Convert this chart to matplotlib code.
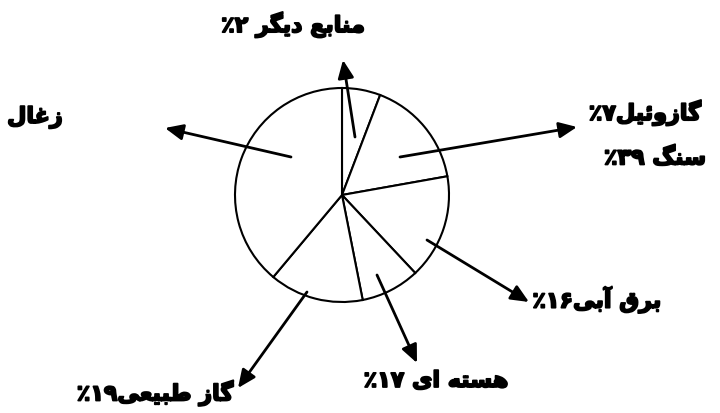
import re
import matplotlib
matplotlib.use('Agg')
import matplotlib.pyplot as plt
import matplotlib.patheffects as pe

# energy sources as written on the chart, clockwise from the top
labels = ['منابع دیگر ۲٪', 'گازوئیل۷٪', 'برق آبی۱۶٪', 'هسته ای ۱۷٪', 'گاز طبیعی۱۹٪', 'زغال سنگ ۳۹٪']
percent = [2, 7, 16, 17, 19, 39]
# slice sizes as they are drawn (the original sketch is not to scale)
drawn_share = [5.8, 16.4, 15.8, 8.9, 14.2, 38.9]

W, H = 720, 413

# presentation forms: isolated, final, initial, medial
FORMS = {
    'ا': ('\uFE8D', '\uFE8E', None, None),
    'آ': ('\uFE81', '\uFE82', None, None),
    'ب': ('\uFE8F', '\uFE90', '\uFE91', '\uFE92'),
    'ت': ('\uFE95', '\uFE96', '\uFE97', '\uFE98'),
    'د': ('\uFEA9', '\uFEAA', None, None),
    'ر': ('\uFEAD', '\uFEAE', None, None),
    'ز': ('\uFEAF', '\uFEB0', None, None),
    'س': ('\uFEB1', '\uFEB2', '\uFEB3', '\uFEB4'),
    'ط': ('\uFEC1', '\uFEC2', '\uFEC3', '\uFEC4'),
    'ع': ('\uFEC9', '\uFECA', '\uFECB', '\uFECC'),
    'غ': ('\uFECD', '\uFECE', '\uFECF', '\uFED0'),
    'ق': ('\uFED5', '\uFED6', '\uFED7', '\uFED8'),
    'ل': ('\uFEDD', '\uFEDE', '\uFEDF', '\uFEE0'),
    'م': ('\uFEE1', '\uFEE2', '\uFEE3', '\uFEE4'),
    'ن': ('\uFEE5', '\uFEE6', '\uFEE7', '\uFEE8'),
    'ه': ('\uFEE9', '\uFEEA', '\uFEEB', '\uFEEC'),
    'و': ('\uFEED', '\uFEEE', None, None),
    'ئ': ('\uFE89', '\uFE8A', '\uFE8B', '\uFE8C'),
    'ی': ('\uFBFC', '\uFBFD', '\uFBFE', '\uFBFF'),
    'گ': ('\uFB92', '\uFB93', '\uFB94', '\uFB95'),
}
DIGITS = '۰۱۲۳۴۵۶۷۸۹'


def joins_left(c):
    return c in FORMS and FORMS[c][2] is not None


def shape(text):
    # matplotlib does no arabic shaping, so pick the joined forms by hand
    out = []
    for i, c in enumerate(text):
        if c not in FORMS:
            out.append(c)
            continue
        prev = text[i - 1] if i > 0 else ''
        nxt = text[i + 1] if i + 1 < len(text) else ''
        p = joins_left(prev)
        n = joins_left(c) and nxt in FORMS
        iso, fin, ini, med = FORMS[c]
        out.append(med if p and n else fin if p else ini if n else iso)
    s = ''.join(out)
    runs = re.findall('[' + DIGITS + ']+|[^' + DIGITS + ']+', s)
    return ''.join(r if r[0] in DIGITS else r[::-1] for r in reversed(runs))


fig = plt.figure(figsize=(W / 100, H / 100), dpi=100)
ax = fig.add_axes([0, 0, 1, 1])

ax.pie(drawn_share, startangle=90, counterclock=False,
       center=(342, H - 195), radius=107,
       wedgeprops=dict(facecolor='white', edgecolor='black', linewidth=1.5))

ax.set_xlim(0, W)
ax.set_ylim(0, H)
ax.set_aspect('equal')
ax.axis('off')

# arrow tail (inside the slice) and arrow tip, in picture pixels
arrows = [
    ((355, 137), (343, 60)),
    ((400, 157), (577, 127)),
    ((427, 240), (529, 302)),
    ((377, 275), (417, 363)),
    ((307, 292), (238, 388)),
    ((291, 157), (165, 128)),
]
label_pos = [(293, 25), (645, 113), (597, 300), (436, 381), (155, 393)]

for (tail, tip) in arrows:
    ax.annotate('', xy=(tip[0], H - tip[1]), xytext=(tail[0], H - tail[1]),
                arrowprops=dict(arrowstyle='-|>,head_length=0.9,head_width=0.4',
                                mutation_scale=12, lw=2, color='black',
                                shrinkA=0, shrinkB=0))

txt = dict(fontsize=16, fontweight='bold', ha='center', va='center',
           family=['DejaVu Sans'],
           path_effects=[pe.withStroke(linewidth=1.3, foreground='black')])
for lbl, (x, y) in zip(labels[:5], label_pos):
    ax.text(x, H - y, shape(lbl), **txt)

# the coal label is split: first word on the left, the rest on the right
coal_words = labels[5].split(' ', 1)
ax.text(35, H - 117, shape(coal_words[0]), **txt)
ax.text(655, H - 158, shape(coal_words[1]), **txt)

fig.savefig('out.png', dpi=100, facecolor='white')
